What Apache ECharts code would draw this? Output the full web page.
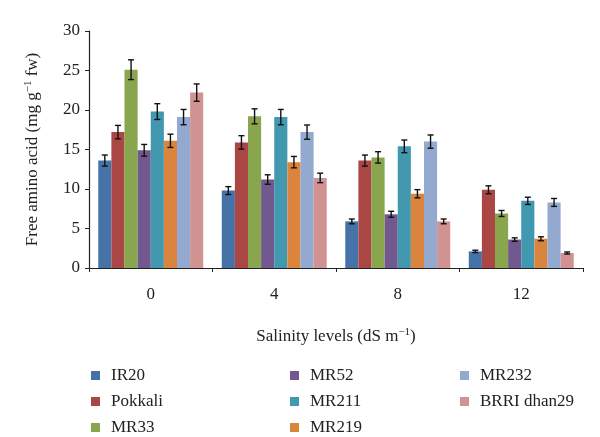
<!DOCTYPE html>
<html><head><meta charset="utf-8">
<script src="https://cdn.jsdelivr.net/npm/echarts@6/dist/echarts.min.js"></script>
<style>html,body{margin:0;padding:0;background:#fff}#c{width:600px;height:437px}</style>
</head><body><div id="c"></div>
<script>
const categories = ['0', '4', '8', '12'];
const seriesNames = ['IR20', 'Pokkali', 'MR33', 'MR52', 'MR211', 'MR219', 'MR232', 'BRRI dhan29'];
const IR20 = [13.6, 9.8, 5.9, 2.1];
const Pokkali = [17.2, 15.9, 13.6, 9.9];
const MR33 = [25.1, 19.2, 14.0, 6.9];
const MR52 = [14.9, 11.2, 6.8, 3.6];
const MR211 = [19.8, 19.1, 15.4, 8.5];
const MR219 = [16.1, 13.4, 9.4, 3.7];
const MR232 = [19.1, 17.2, 16.0, 8.3];
const BRRI = [22.2, 11.4, 5.9, 1.9];
const errIR20 = [0.7, 0.5, 0.3, 0.15];
const errPokkali = [0.85, 0.85, 0.7, 0.5];
const errMR33 = [1.25, 0.95, 0.72, 0.38];
const errMR52 = [0.74, 0.6, 0.38, 0.22];
const errMR211 = [1.0, 0.97, 0.8, 0.46];
const errMR219 = [0.84, 0.72, 0.52, 0.25];
const errMR232 = [0.97, 0.9, 0.84, 0.5];
const errBRRI = [1.1, 0.6, 0.3, 0.13];
const yTicks = [0, 5, 10, 15, 20, 25, 30];

const values = [IR20, Pokkali, MR33, MR52, MR211, MR219, MR232, BRRI];
const errors = [errIR20, errPokkali, errMR33, errMR52, errMR211, errMR219, errMR232, errBRRI];
const colors = ['#4572A7', '#AA4643', '#89A54E', '#71588F', '#4198AF', '#DB843D', '#93A9CF', '#D19392'];
const gapFrac = 0.15;
const n = seriesNames.length;
const font = 'Liberation Serif';

const series = [];
values.forEach((v, i) => {
  series.push({
    name: seriesNames[i], type: 'bar', data: v, barGap: '0%', barCategoryGap: (gapFrac * 100) + '%',
    itemStyle: { color: colors[i] }, silent: true
  });
});
values.forEach((v, i) => {
  series.push({
    type: 'custom', silent: true, z: 10,
    data: v.map((val, j) => [j, val, errors[i][j]]),
    renderItem: function (params, api) {
      const c = api.coord([api.value(0), api.value(1)]);
      const band = api.size([1, 0])[0];
      const bw = band * (1 - gapFrac) / n;
      const x = c[0] + (i - (n - 1) / 2) * bw;
      const top = api.coord([api.value(0), api.value(1) + api.value(2)])[1];
      const bot = api.coord([api.value(0), api.value(1) - api.value(2)])[1];
      const cap = 3;
      const st = { stroke: '#111', lineWidth: 1.4 };
      return { type: 'group', children: [
        { type: 'line', shape: { x1: x, y1: top, x2: x, y2: bot }, style: st },
        { type: 'line', shape: { x1: x - cap, y1: top, x2: x + cap, y2: top }, style: st },
        { type: 'line', shape: { x1: x - cap, y1: bot, x2: x + cap, y2: bot }, style: st }
      ]};
    }
  });
});

function legend(names, left) {
  return {
    data: names, orient: 'vertical', left: left, top: 362, height: 90, itemGap: 9,
    itemWidth: 9, itemHeight: 9, icon: 'rect', selectedMode: false,
    textStyle: { fontFamily: font, fontSize: 17, color: '#222', padding: [0, 0, 0, 6] }
  };
}

const rich = { a: { fontFamily: font, fontSize: 17, color: '#222' }, s: { fontFamily: font, fontSize: 11, color: '#222', verticalAlign: 'top', padding: [0, 0, 9, 0] } };

const chart = echarts.init(document.getElementById('c'));
chart.setOption({
  animation: false,
  color: colors,
  textStyle: { fontFamily: font },
  grid: { left: 89, right: 17, top: 31, bottom: 169 },
  legend: [
    legend(['IR20', 'Pokkali', 'MR33'], 86),
    legend(['MR52', 'MR211', 'MR219'], 285),
    legend(['MR232', 'BRRI dhan29'], 455)
  ],
  xAxis: {
    type: 'category', data: categories,
    name: '{a|Salinity levels (dS m}{s|−1}{a|)}', nameLocation: 'middle', nameGap: 59,
    nameTextStyle: { rich: rich },
    axisLine: { lineStyle: { color: '#222', width: 1.2 } },
    axisTick: { show: true, length: 4, lineStyle: { color: '#222' } },
    axisLabel: { fontFamily: font, fontSize: 17, color: '#222', margin: 18 }
  },
  yAxis: {
    type: 'value', min: 0, max: 30, interval: 5,
    name: '{a|Free amino acid (mg g}{s|−1}{a| fw)}', nameLocation: 'middle', nameGap: 46,
    nameTextStyle: { rich: rich },
    splitLine: { show: false },
    axisLine: { show: true, lineStyle: { color: '#222', width: 1.2 } },
    axisTick: { show: true, length: 4, lineStyle: { color: '#222' } },
    axisLabel: { fontFamily: font, fontSize: 17, color: '#222', margin: 9,
      formatter: v => yTicks.includes(v) ? String(v) : '' }
  },
  series: series
});
</script></body></html>
